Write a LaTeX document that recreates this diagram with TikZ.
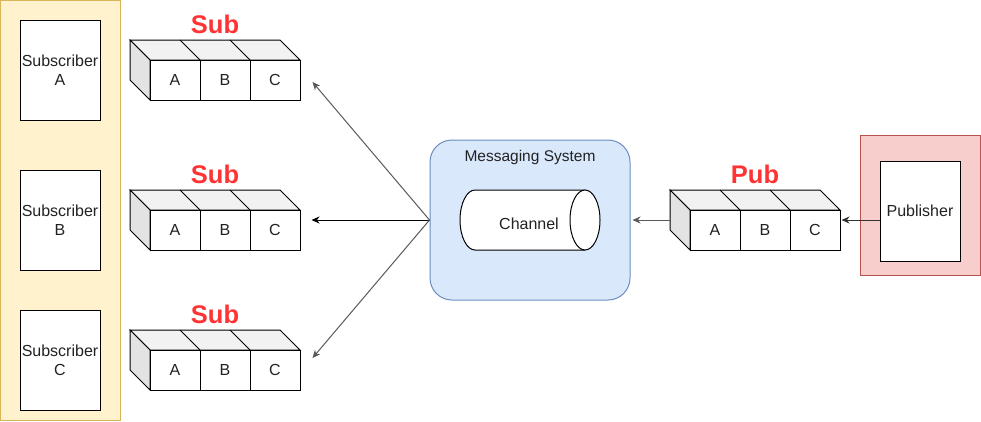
\documentclass[tikz,border=0pt]{standalone}
\usepackage{fontspec}
\setmainfont{Liberation Sans}
\usetikzlibrary{arrows.meta}
\definecolor{yfill}{HTML}{FFF2CC}
\definecolor{ydraw}{HTML}{D6B656}
\definecolor{rfill}{HTML}{F8CECC}
\definecolor{rdraw}{HTML}{B85450}
\definecolor{bfill}{HTML}{DAE8FC}
\definecolor{bdraw}{HTML}{6C8EBF}
\definecolor{topgray}{HTML}{F2F2F2}
\definecolor{sidegray}{HTML}{E3E3E3}
\definecolor{redtxt}{HTML}{FF3333}
\definecolor{txt}{HTML}{222222}
\tikzset{
  cell/.style={draw, fill=white, minimum width=50pt, minimum height=40pt, inner sep=0pt, text=txt},
  qbound/.style={minimum width=170pt, minimum height=60pt, inner sep=0pt},
  lbl/.style={anchor=base, text=redtxt, font=\fontsize{25.5}{28}\selectfont\bfseries},
  whitebox/.style={draw, fill=white, minimum width=80pt, minimum height=100pt, inner sep=0pt, align=center, text=txt},
  arr/.style={-{Stealth[length=8pt,width=7pt,inset=2.5pt]}, line width=1pt},
}
\newcommand\queuebox[4]{%
  \begin{scope}[shift={(#2,#3)}]
    \filldraw[fill=topgray] (0,0) -- (150,0) -- (170,20) -- (20,20) -- cycle;
    \draw (50,0) -- (70,20) (100,0) -- (120,20);
    \filldraw[fill=sidegray] (0,0) -- (20,20) -- (20,60) -- (0,40) -- cycle;
    \node[cell] (#1a) at (45,40) {A};
    \node[cell] (#1b) at (95,40) {B};
    \node[cell] (#1c) at (145,40) {C};
    \node[qbound] (#1) at (85,30) {};
    \node[lbl] (#1l) at (85,-7) {#4};
  \end{scope}}
\begin{document}
\begin{tikzpicture}[x=1pt, y=-1pt, line width=1pt, font=\fontsize{16}{19}\selectfont]
\useasboundingbox (0,0) rectangle (981,421);
% subscriber panel
\node[draw=ydraw, fill=yfill, minimum width=119.5pt, minimum height=419.5pt, inner sep=0pt] (subs) at (60.25,210.25) {};
\node[whitebox] (sa) at (60,70) {Subscriber\\A};
\node[whitebox] (sb) at (60,220) {Subscriber\\B};
\node[whitebox] (sc) at (60,360) {Subscriber\\C};
% queues
\queuebox{q1}{130}{40}{Sub}
\queuebox{q2}{130}{190}{Sub}
\queuebox{q3}{130}{330}{Sub}
\queuebox{pq}{670}{190}{Pub}
% messaging system
\node[draw=bdraw, fill=bfill, rounded corners=22pt, minimum width=200pt, minimum height=160pt, inner sep=0pt] (ms) at (530,220) {};
\node[anchor=base, text=txt, font=\fontsize{15.5}{18}\selectfont] (mst) at (530,161) {Messaging System};
\draw[fill=white] (585,190) -- (475,190) arc[start angle=90, end angle=270, x radius=15pt, y radius=30pt] -- (585,250);
\draw[fill=white] (585,220) ellipse[x radius=15pt, y radius=30pt];
\node[text=txt] (ch) at (529,224) {Channel};
% publisher
\node[draw=rdraw, fill=rfill, minimum width=120pt, minimum height=140pt, inner sep=0pt] (pubs) at (920,205) {};
\node[whitebox] (pub) at (920,211) {Publisher};
% connectors
\draw[arr, draw=black!80] (pub.west |- pq.east) -- ([xshift=1pt]pq.east);
\draw[arr, draw=black!65] (pq.west) -- ([xshift=2pt]ms.east);
\draw[arr, draw=black!65] (ms.west) -- ([xshift=12pt,yshift=-12pt]q1.east);
\draw[arr] (ms.west) -- ([xshift=11pt]q2.east);
\draw[arr, draw=black!65] (ms.west) -- ([xshift=12pt,yshift=2pt]q3.east);
\end{tikzpicture}
\end{document}
